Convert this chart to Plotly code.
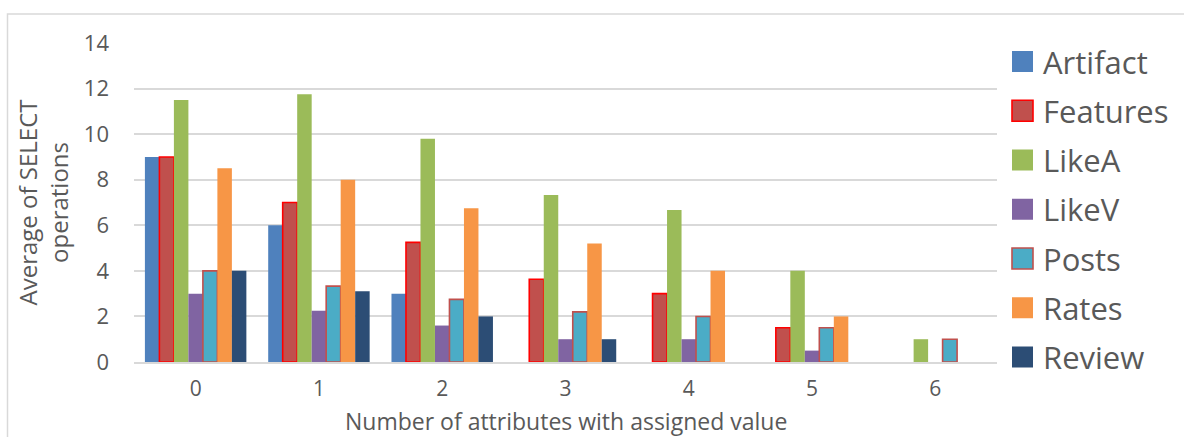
import plotly.graph_objects as go

# Number of attributes with an assigned value (x categories)
categories = ["0", "1", "2", "3", "4", "5", "6"]

# Average number of SELECT operations per table
artifact = [9, 6, 3, None, None, None, None]
features = [9, 7, 5.25, 3.63, 3, 1.5, None]
likea = [11.5, 11.75, 9.8, 7.33, 6.67, 4, 1]
likev = [3, 2.25, 1.6, 1, 1, 0.5, None]
posts = [4, 3.33, 2.75, 2.2, 2, 1.5, 1]
rates = [8.5, 8, 6.75, 5.2, 4, 2, None]
review = [4, 3.1, 2, 1, None, None, None]

series_names = ["Artifact", "Features", "LikeA", "LikeV", "Posts", "Rates", "Review"]
series_values = [artifact, features, likea, likev, posts, rates, review]
fill_colors = ["#4F81BD", "#C0504D", "#9BBB59", "#8064A2", "#4BACC6", "#F79646", "#2C4D75"]
edge_colors = [None, "#FF0000", None, None, "#C0504D", None, None]

y_ticks = [0, 2, 4, 6, 8, 10, 12, 14]

x_title = "Number of attributes with assigned value"
y_title = "Average of SELECT<br>operations"

TEXT = "#595959"
GRID = "#D9D9D9"
FONT = "Open Sans"

W, H = 1184, 437
# plot-area edges in pixels
PL, PR, PT, PB = 134, 997, 43, 362

fig = go.Figure()
for name, vals, fill, edge in zip(series_names, series_values, fill_colors, edge_colors):
    fig.add_trace(go.Bar(
        name=name,
        x=categories,
        y=vals,
        marker=dict(
            color=fill,
            line=dict(color=edge if edge else fill, width=1.6 if edge else 0),
        ),
        showlegend=False,
    ))

# helpers: pixel position -> paper fraction
def px_x(px):
    return (px - PL) / (PR - PL)

def px_y(py):
    return (PB - py) / (PB - PT)

shapes = []
annotations = []

# Legend drawn as coloured squares with labels, to the right of the plot area
for i, (name, fill, edge) in enumerate(zip(series_names, fill_colors, edge_colors)):
    cy = 61.5 + i * 49.25
    shapes.append(dict(
        type="rect", xref="paper", yref="paper",
        x0=px_x(1012), x1=px_x(1033), y0=px_y(cy + 10.5), y1=px_y(cy - 10.5),
        fillcolor=fill,
        line=dict(color=edge if edge else fill, width=1.6 if edge else 0),
    ))
    annotations.append(dict(
        text=name, xref="paper", yref="paper",
        x=px_x(1041), y=px_y(cy), xanchor="left", yanchor="middle",
        showarrow=False, font=dict(family=FONT, size=31, color=TEXT),
    ))

# x-axis title placed just under the category labels
annotations.append(dict(
    text=x_title, xref="paper", yref="paper",
    x=0.5, y=px_y(437.5), xanchor="center", yanchor="bottom",
    borderpad=0,
    showarrow=False, font=dict(family=FONT, size=23, color=TEXT),
))

# Outer chart frame
shapes.append(dict(
    type="rect", xref="paper", yref="paper",
    x0=px_x(7.5), x1=px_x(1200), y0=px_y(450), y1=px_y(14),
    line=dict(color="#D9D9D9", width=1.5), fillcolor="rgba(0,0,0,0)", layer="below",
))

fig.update_layout(
    width=W, height=H,
    margin=dict(l=PL, r=W - PR, t=PT, b=H - PB, autoexpand=False),
    paper_bgcolor="white", plot_bgcolor="white",
    barmode="group", bargap=0.177, bargroupgap=0,
    font=dict(family=FONT, color=TEXT, size=22),
    shapes=shapes,
    annotations=annotations,
    xaxis=dict(
        type="category", automargin=False,
        showgrid=False, showline=True, linecolor=GRID, linewidth=1.5,
        ticks="", tickfont=dict(size=21, color=TEXT),
        ticklabelstandoff=7,
    ),
    yaxis=dict(
        range=[0, 14], tickvals=y_ticks, automargin=False,
        showgrid=True, gridcolor=GRID, gridwidth=1.5,
        zeroline=False, showline=False,
        ticks="", tickfont=dict(size=22, color=TEXT),
        ticklabelstandoff=24,
        title=dict(text=y_title, font=dict(size=24, color=TEXT), standoff=8),
    ),
)

fig.write_html("out.html")
